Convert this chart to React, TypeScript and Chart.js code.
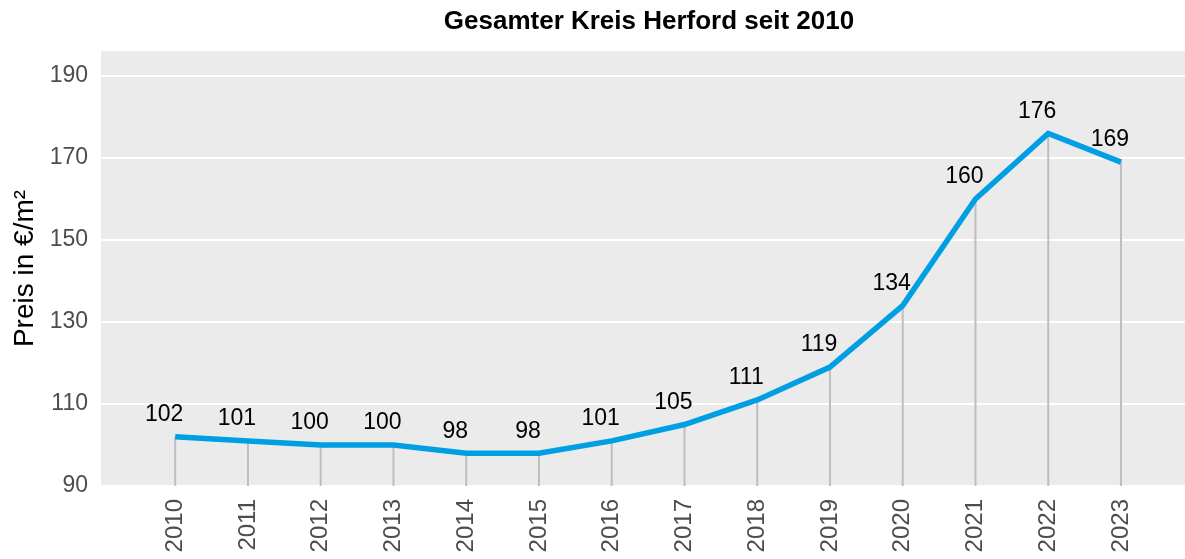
import React, { useEffect, useRef } from "react";
import { Chart, registerables } from "chart.js";

Chart.register(...registerables);

const title = "Gesamter Kreis Herford seit 2010";
const yAxisTitle = "Preis in €/m²";
const years = [2010, 2011, 2012, 2013, 2014, 2015, 2016, 2017, 2018, 2019, 2020, 2021, 2022, 2023];
const prices = [102, 101, 100, 100, 98, 98, 101, 105, 111, 119, 134, 160, 176, 169];
const yTicks = [90, 110, 130, 150, 170, 190];
const yMin = 90;
const yMax = 196.1;
const xMin = 2008.98;
const xMax = 2023.88;

const FONT = "'Liberation Sans', Arial, sans-serif";

const panelPlugin = {
  id: "panelBg",
  beforeDraw(chart: any) {
    const { ctx, chartArea } = chart;
    ctx.save();
    ctx.fillStyle = "#ebebeb";
    ctx.fillRect(chartArea.left, chartArea.top, chartArea.right - chartArea.left, chartArea.bottom - chartArea.top);
    ctx.restore();
  },
};

const dropLinePlugin = {
  id: "dropLines",
  beforeDatasetsDraw(chart: any) {
    const { ctx, chartArea } = chart;
    const meta = chart.getDatasetMeta(0);
    ctx.save();
    ctx.strokeStyle = "#bebebe";
    ctx.lineWidth = 2;
    meta.data.forEach((pt: any) => {
      ctx.beginPath();
      ctx.moveTo(pt.x, pt.y);
      ctx.lineTo(pt.x, chartArea.bottom);
      ctx.stroke();
    });
    ctx.restore();
  },
};

const labelPlugin = {
  id: "valueLabels",
  afterDatasetsDraw(chart: any) {
    const { ctx } = chart;
    const meta = chart.getDatasetMeta(0);
    const data = chart.data.datasets[0].data as any[];
    ctx.save();
    ctx.fillStyle = "#000000";
    ctx.font = `23px ${FONT}`;
    ctx.textAlign = "center";
    ctx.textBaseline = "middle";
    meta.data.forEach((pt: any, i: number) => {
      ctx.fillText(String(data[i].y), pt.x - 11, pt.y - 22);
    });
    ctx.restore();
  },
};

const titlePlugin = {
  id: "customTitle",
  afterDraw(chart: any) {
    const { ctx, chartArea } = chart;
    ctx.save();
    ctx.fillStyle = "#000000";
    ctx.font = `bold 26px ${FONT}`;
    ctx.textAlign = "center";
    ctx.textBaseline = "middle";
    ctx.fillText(title, (chartArea.left + chartArea.right) / 2 + 6, 22);
    ctx.restore();
  },
};

export default function App() {
  const ref = useRef<HTMLCanvasElement | null>(null);
  useEffect(() => {
    if (!ref.current) return;
    const chart = new Chart(ref.current, {
      type: "line",
      data: {
        datasets: [
          {
            data: years.map((y, i) => ({ x: y, y: prices[i] })),
            borderColor: "#009fe3",
            borderWidth: 5.5,
            pointRadius: 0,
            tension: 0,
            fill: false,
          },
        ],
      },
      options: {
        animation: false,
        responsive: false,
        maintainAspectRatio: false,
        layout: { padding: { top: 51, left: 0, right: 0, bottom: 0 } },
        plugins: {
          legend: { display: false },
          tooltip: { enabled: false },
          title: { display: false },
        },
        scales: {
          x: {
            type: "linear",
            min: xMin,
            max: xMax,
            afterBuildTicks(scale: any) {
              scale.ticks = years.map((v) => ({ value: v }));
            },
            afterFit(scale: any) {
              scale.height = 73;
            },
            grid: { display: false, drawTicks: false },
            border: { display: false },
            ticks: {
              minRotation: 90,
              maxRotation: 90,
              padding: 13,
              color: "#4d4d4d",
              font: { family: FONT, size: 24 },
              callback: (v: any) => String(v),
              autoSkip: false,
            },
          },
          y: {
            type: "linear",
            min: yMin,
            max: yMax,
            afterBuildTicks(scale: any) {
              scale.ticks = yTicks.map((v) => ({ value: v }));
            },
            afterFit(scale: any) {
              scale.width = 101;
            },
            grid: { color: "#ffffff", lineWidth: 2, drawTicks: false },
            border: { display: false },
            ticks: {
              padding: 13,
              color: "#4d4d4d",
              font: { family: FONT, size: 23 },
              callback: (v: any) => String(v),
            },
            title: {
              display: true,
              text: yAxisTitle,
              color: "#000000",
              font: { family: FONT, size: 28 },
              padding: { top: 8, bottom: 0 },
            },
          },
        },
      },
      plugins: [panelPlugin, dropLinePlugin, labelPlugin, titlePlugin],
    });
    return () => chart.destroy();
  }, []);
  return (
    <div style={{ position: "absolute", left: 0, top: 0, width: 1185, height: 559 }}>
      <canvas ref={ref} width={1185} height={559} style={{ display: "block" }} />
    </div>
  );
}
